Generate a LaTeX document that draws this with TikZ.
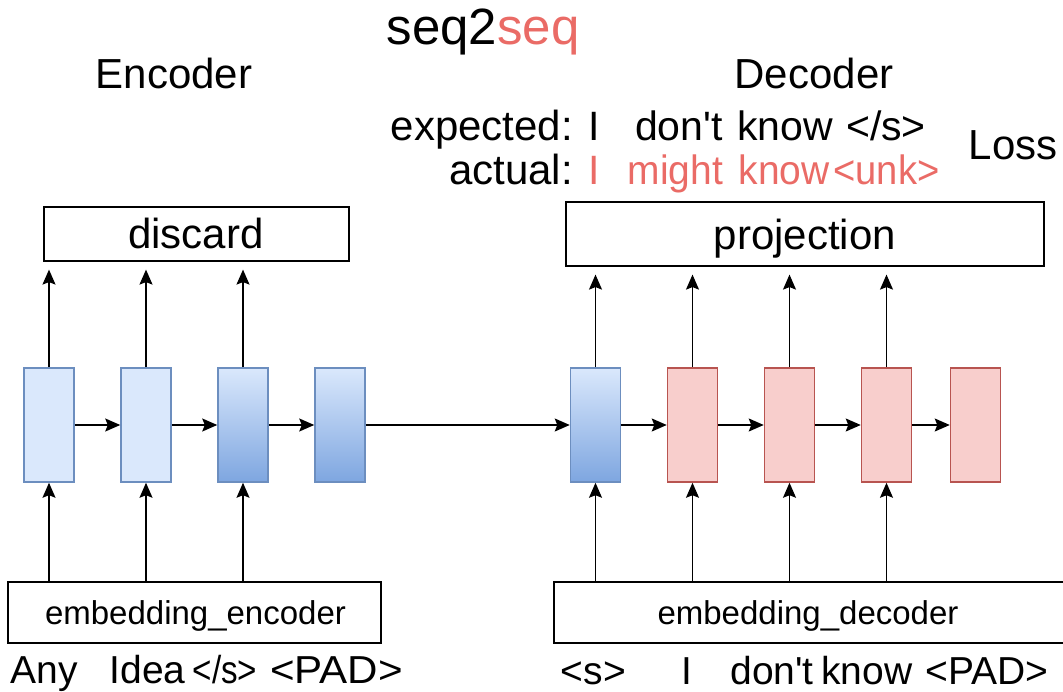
\documentclass[tikz,border=0pt]{standalone}
\usepackage{fontspec}
\setmainfont{Liberation Sans}
\usetikzlibrary{arrows.meta}
\definecolor{redtxt}{HTML}{EA6B66}
\definecolor{bluefill}{HTML}{DAE8FC}
\definecolor{bluedark}{HTML}{7EA6E0}
\definecolor{bluedraw}{HTML}{6C8EBF}
\definecolor{redfill}{HTML}{F8CECC}
\definecolor{reddraw}{HTML}{B85450}
\newcommand{\fs}[1]{\fontsize{#1}{#1}\selectfont}
\newcommand{\apos}{\textquotesingle}
\begin{document}
\begin{tikzpicture}[x=1pt,y=-1pt,
  cell/.style={rectangle, minimum width=50pt, minimum height=114pt, inner sep=0pt, line width=1.5pt},
  plain/.style={cell, draw=bluedraw, fill=bluefill},
  grad/.style={cell, draw=bluedraw, top color=bluefill, bottom color=bluedark},
  redc/.style={cell, draw=reddraw, fill=redfill},
  box/.style={rectangle, draw=black, line width=1.2pt, inner sep=0pt},
  lbl/.style={anchor=base, inner sep=0pt, text depth=0pt},
  arr/.style={line width=1.4pt, -{Stealth[length=15pt, width=13pt, inset=2.5pt]}},
  uparr/.style={arr, shorten >=8pt}
]
\useasboundingbox (0,0) rectangle (1063,692);
\clip (0,0) rectangle (1063,692);

% titles
\node[lbl] (title) at (483,45) {\fs{51}seq2\textcolor{redtxt}{seq}};
\node[lbl] (enc) at (174,89) {\fs{42}Encoder};
\node[lbl] (dec) at (814,89) {\fs{42}Decoder};

% expected / actual
\node[lbl, anchor=base east] (exp) at (573,141) {\fs{42}expected:};
\node[lbl, anchor=base east] (act) at (573,185) {\fs{42}actual:};
\node[lbl] (e1) at (594,141) {\fs{41}I};
\node[lbl] (e2) at (679,141) {\fs{41}don\apos t};
\node[lbl] (e3) at (785,141) {\fs{41}know};
\node[lbl] (e4) at (886,141) {\fs{41}</s>};
\node[lbl, text=redtxt] (a1) at (594,185) {\fs{41}I};
\node[lbl, text=redtxt] (a2) at (675.5,185) {\fs{41}\scalebox{0.95}[1]{might}};
\node[lbl, text=redtxt] (a3) at (784,185) {\fs{41}\scalebox{0.95}[1]{know}};
\node[lbl, text=redtxt] (a4) at (886.5,185) {\fs{41}\scalebox{0.93}[1]{<unk>}};
\node[lbl] (loss) at (1013,160) {\fs{42}Loss};

% top boxes
\node[box, minimum width=305pt, minimum height=54pt] (dis) at (196.5,234) {};
\node[lbl] (dist) at (196,249) {\fs{42}discard};
\node[box, minimum width=478pt, minimum height=64pt] (proj) at (805,234) {};
\node[lbl] (projt) at (805,250) {\fs{42}projection};

% embedding boxes
\node[box, minimum width=373pt, minimum height=61pt] (ee) at (194.5,612.5) {};
\node[lbl] (eet) at (195.5,624) {\fs{33}embedding\_encoder};
\node[box, minimum width=511pt, minimum height=61pt] (ed) at (809.5,612.5) {};
\node[lbl] (edt) at (808,624) {\fs{33}embedding\_decoder};

% encoder cells
\node[plain] (c1) at (49,425) {};
\node[plain] (c2) at (146,425) {};
\node[grad]  (c3) at (243,425) {};
\node[grad]  (c4) at (340,425) {};
% decoder cells
\node[grad] (d1) at (595.5,425) {};
\node[redc] (d2) at (692.5,425) {};
\node[redc] (d3) at (789.5,425) {};
\node[redc] (d4) at (886.5,425) {};
\node[redc] (d5) at (975.5,425) {};

% horizontal arrows
\draw[arr] (c1) -- (c2);
\draw[arr] (c2) -- (c3);
\draw[arr] (c3) -- (c4);
\draw[arr] (c4) -- (d1);
\draw[arr] (d1) -- (d2);
\draw[arr] (d2) -- (d3);
\draw[arr] (d3) -- (d4);
\draw[arr] (d4) -- (d5);

% vertical arrows
\foreach \c in {c1,c2,c3}{
  \draw[arr] (ee.north -| \c.south) -- (\c.south);
  \draw[uparr] (\c.north) -- (dis.south -| \c.north);
}
\foreach \c in {d1,d2,d3,d4}{
  \draw[arr] (ed.north -| \c.south) -- (\c.south);
  \draw[uparr] (\c.north) -- (proj.south -| \c.north);
}

% bottom labels
\node[lbl] (w1) at (44,683) {\fs{39}Any};
\node[lbl] (w2) at (147.5,683) {\fs{39}Idea};
\node[lbl] (w3) at (225,683) {\fs{39}\scalebox{0.85}[1]{</s>}};
\node[lbl] (w4) at (336.5,683) {\fs{39}\scalebox{1.08}[1]{<PAD>}};
\node[lbl] (v1) at (593.5,684) {\fs{39}<s>};
\node[lbl] (v2) at (687,684) {\fs{39}I};
\node[lbl] (v3) at (772,684) {\fs{39}don\apos t};
\node[lbl] (v4) at (867,684) {\fs{39}know};
\node[lbl] (v5) at (987,684) {\fs{39}<PAD>};
\end{tikzpicture}
\end{document}
